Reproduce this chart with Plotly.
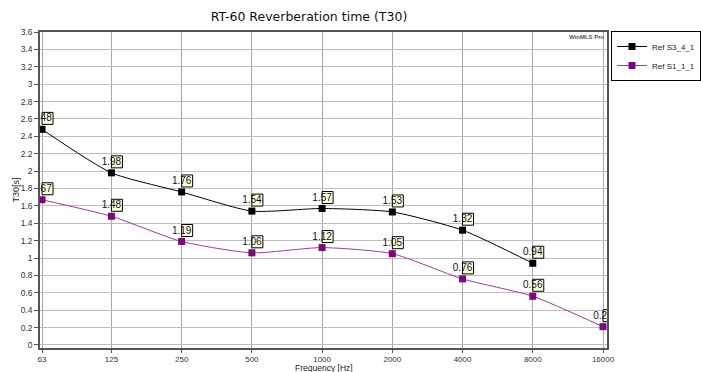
import math
import plotly.graph_objects as go

freq_labels = ["63", "125", "250", "500", "1000", "2000", "4000", "8000", "16000"]
freqs = [63, 125, 250, 500, 1000, 2000, 4000, 8000, 16000]
s3_4_1 = [2.48, 1.98, 1.76, 1.54, 1.57, 1.53, 1.32, 0.94]
s1_1_1 = [1.67, 1.48, 1.19, 1.06, 1.12, 1.05, 0.76, 0.56, 0.21]
series = [("Ref S3_4_1", freqs[:len(s3_4_1)], s3_4_1, "#000000", "#000000"),
          ("Ref S1_1_1", freqs, s1_1_1, "#7a0a7a", "#9a3d9a")]
y_ticks = [round(0.2 * i, 1) for i in range(19)]

FONT = "Liberation Sans"
LABEL_LIFT = 0.12  # label centre sits ~11 px above its point (y units)
fig = go.Figure()
shapes = []
for name, xs, ys, mcol, lcol in series:
    fig.add_trace(go.Scatter(
        x=xs, y=ys, name=name, mode="lines+markers",
        line=dict(color=lcol, width=1, shape="spline", smoothing=0.6),
        marker=dict(symbol="square", size=7, color=mcol, line=dict(width=0)),
        cliponaxis=True))
    fig.add_trace(go.Scatter(
        x=xs, y=[v + LABEL_LIFT for v in ys], mode="text", showlegend=False,
        text=[f"{v:g}" for v in ys], textposition="middle center",
        textfont=dict(family=FONT, size=10, color="#111111"),
        hoverinfo="skip", cliponaxis=True))
    for xv, yv in zip(xs, ys):
        shapes.append(dict(type="rect", xref="x", yref="y", layer="between",
                           xsizemode="pixel", ysizemode="pixel",
                           xanchor=xv, yanchor=yv, x0=-11, x1=11, y0=5, y1=17,
                           fillcolor="#ffffe1", line=dict(color="#000000", width=1)))

PLOT_W, PLOT_H = 567, 316
fig.update_layout(
    width=701, height=372,
    margin=dict(l=40, r=94, t=32, b=24),
    paper_bgcolor="white", plot_bgcolor="white",
    title=dict(text="RT-60 Reverberation time (T30)", x=309 / 701, xanchor="center",
               y=1 - 17 / 372, yanchor="middle",
               font=dict(family="DejaVu Sans", size=12.5, color="#111111")),
    font=dict(family=FONT, size=8.5, color="#333333"),
    shapes=shapes,
    showlegend=True,
    legend=dict(xref="container", yref="container", x=1.0, y=1 - 31 / 372,
                xanchor="right", yanchor="top",
                bgcolor="white", bordercolor="#000000", borderwidth=1,
                font=dict(family=FONT, size=8, color="#222222"),
                itemwidth=30, tracegroupgap=0, traceorder="normal"),
    annotations=[
        dict(text="<b>WinMLS Pro</b>", xref="paper", yref="paper",
             x=1.0, y=1.0, xanchor="right", yanchor="top", showarrow=False,
             font=dict(family=FONT, size=6, color="#555555")),
        dict(text="Frequency [Hz]", xref="paper", yref="paper",
             x=0.5, y=(348 - 367.5) / PLOT_H, xanchor="center", yanchor="middle",
             showarrow=False, font=dict(family=FONT, size=8.5, color="#222222")),
    ],
)
fig.update_xaxes(
    type="log", range=[math.log10(63) - 0.0086, math.log10(16000) + 0.0171],
    tickvals=freqs, ticktext=freq_labels, ticks="outside", ticklen=3,
    tickfont=dict(size=8), tickcolor="#555555",
    showgrid=True, gridcolor="#a8a8a8", gridwidth=1,
    showline=True, linecolor="#555555", linewidth=1.5, mirror=True,
    zeroline=False, automargin=False)
fig.update_yaxes(
    range=[-0.035, 3.6], tickvals=y_ticks, ticktext=[f"{v:g}" for v in y_ticks],
    ticks="outside", ticklen=4, tickcolor="#555555",
    showgrid=True, gridcolor="#bdbdbd", gridwidth=1,
    showline=True, linecolor="#555555", linewidth=1.5, mirror=True,
    title=dict(text="T30[s]", standoff=0, font=dict(family=FONT, size=9, color="#222222")),
    zeroline=False, automargin=False)

fig.write_html("out.html", config={"displayModeBar": False},
               post_script="document.body.style.margin='0';document.body.style.padding='0';")
